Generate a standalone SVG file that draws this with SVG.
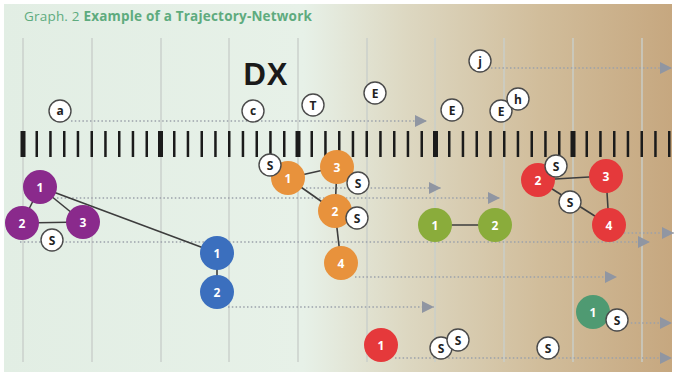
<svg xmlns="http://www.w3.org/2000/svg" width="674" height="375" viewBox="0 0 674 375">
<defs>
<linearGradient id="bg" x1="0" y1="0" x2="674" y2="0" gradientUnits="userSpaceOnUse">
<stop offset="0" stop-color="#e2eee4"/>
<stop offset="0.45" stop-color="#e7f1e8"/>
<stop offset="0.6" stop-color="#ddd8c2"/>
<stop offset="0.8" stop-color="#d1bd9b"/>
<stop offset="1" stop-color="#c6a77f"/>
</linearGradient>
<marker id="ah" markerUnits="userSpaceOnUse" markerWidth="12" markerHeight="12" viewBox="0 0 10 10" refX="10" refY="5" orient="auto">
<path d="M0,0 L10,5 L0,10 Z" fill="#9096a2"/>
</marker>
<style>
.grid{stroke:#c9cfcb;stroke-width:1.4}
.tk{fill:#1b1b1b}
.dot{fill:none;stroke:#9ba1aa;stroke-width:1.6;stroke-dasharray:1.5 2.3;marker-end:url(#ah)}
.edge{stroke:#3d3d3d;stroke-width:1.6;fill:none}
.lab circle{fill:#ffffff;stroke:#4a4a4a;stroke-width:1.4}
.lab text{font-family:"Open Sans","DejaVu Sans",sans-serif;font-weight:700;font-size:12px;fill:#222;text-anchor:middle}
.nd text{font-family:"Open Sans","DejaVu Sans",sans-serif;font-weight:700;font-size:12px;fill:#ffffff;text-anchor:middle}
.pu{fill:#8a2a8c}.bl{fill:#3b6fbe}.or{fill:#e8923c}.gr{fill:#8aac3b}.rd{fill:#e5393b}.tl{fill:#4f9a72}
</style>
</defs>
<rect x="0" y="0" width="674" height="375" fill="#ffffff"/>
<rect x="4" y="4" width="668" height="368" fill="url(#bg)"/>
<text x="24" y="21" font-family="'Open Sans','DejaVu Sans',sans-serif" font-size="13.5" letter-spacing="0.2" fill="#5eab7e">Graph. 2 <tspan font-weight="700">Example of a Trajectory-Network</tspan></text>
<g id="grid">
<line class="grid" x1="23" y1="38" x2="23" y2="362"/>
<line class="grid" x1="92" y1="38" x2="92" y2="362"/>
<line class="grid" x1="161" y1="38" x2="161" y2="362"/>
<line class="grid" x1="229" y1="38" x2="229" y2="362"/>
<line class="grid" x1="298" y1="38" x2="298" y2="362"/>
<line class="grid" x1="367" y1="38" x2="367" y2="362"/>
<line class="grid" x1="435" y1="38" x2="435" y2="362"/>
<line class="grid" x1="504" y1="38" x2="504" y2="362"/>
<line class="grid" x1="573" y1="38" x2="573" y2="362"/>
<line class="grid" x1="642" y1="38" x2="642" y2="362"/>
</g>
<text x="266" y="85" font-family="'Liberation Sans',Arial,sans-serif" font-weight="700" font-size="31" fill="#1a1a1a" text-anchor="middle" letter-spacing="1">DX</text>
<g id="connectors">
<line class="dot" x1="71" y1="121" x2="427" y2="121"/>
<line class="dot" x1="491" y1="68" x2="672" y2="68"/>
<line class="dot" x1="306" y1="188" x2="441" y2="188"/>
<line class="dot" x1="57" y1="198" x2="500" y2="198"/>
<line class="dot" x1="624" y1="233" x2="674" y2="233"/>
<line class="dot" x1="20" y1="242" x2="650" y2="242"/>
<line class="dot" x1="355" y1="277" x2="617" y2="277"/>
<line class="dot" x1="228" y1="307" x2="434" y2="307"/>
<line class="dot" x1="627" y1="323" x2="672" y2="323"/>
<line class="dot" x1="395" y1="358" x2="672" y2="358"/>
<line class="edge" x1="40" y1="187" x2="22" y2="223"/>
<line class="edge" x1="40" y1="187" x2="83" y2="222"/>
<line class="edge" x1="22" y1="223" x2="83" y2="222"/>
<line class="edge" x1="40" y1="187" x2="217" y2="253"/>
<line class="edge" x1="217" y1="253" x2="217" y2="292"/>
<line class="edge" x1="288" y1="178" x2="337" y2="167"/>
<line class="edge" x1="288" y1="178" x2="335" y2="211"/>
<line class="edge" x1="337" y1="167" x2="335" y2="211"/>
<line class="edge" x1="335" y1="211" x2="341" y2="263"/>
<line class="edge" x1="435" y1="225" x2="495" y2="225"/>
<line class="edge" x1="538" y1="180" x2="606" y2="176"/>
<line class="edge" x1="606" y1="176" x2="609" y2="225"/>
<line class="edge" x1="538" y1="180" x2="609" y2="225"/>
</g>
<g id="ticks">
<rect class="tk" x="20.5" y="131" width="5" height="26"/>
<rect class="tk" x="35.5" y="131" width="2.5" height="26"/>
<rect class="tk" x="49.2" y="131" width="2.5" height="26"/>
<rect class="tk" x="63" y="131" width="2.5" height="26"/>
<rect class="tk" x="76.7" y="131" width="2.5" height="26"/>
<rect class="tk" x="90.5" y="131" width="2.5" height="26"/>
<rect class="tk" x="104.2" y="131" width="2.5" height="26"/>
<rect class="tk" x="118" y="131" width="2.5" height="26"/>
<rect class="tk" x="131.7" y="131" width="2.5" height="26"/>
<rect class="tk" x="145.5" y="131" width="2.5" height="26"/>
<rect class="tk" x="158" y="131" width="5" height="26"/>
<rect class="tk" x="173" y="131" width="2.5" height="26"/>
<rect class="tk" x="186.7" y="131" width="2.5" height="26"/>
<rect class="tk" x="200.5" y="131" width="2.5" height="26"/>
<rect class="tk" x="214.2" y="131" width="2.5" height="26"/>
<rect class="tk" x="228" y="131" width="2.5" height="26"/>
<rect class="tk" x="241.7" y="131" width="2.5" height="26"/>
<rect class="tk" x="255.5" y="131" width="2.5" height="26"/>
<rect class="tk" x="269.2" y="131" width="2.5" height="26"/>
<rect class="tk" x="283" y="131" width="2.5" height="26"/>
<rect class="tk" x="295.5" y="131" width="5" height="26"/>
<rect class="tk" x="310.5" y="131" width="2.5" height="26"/>
<rect class="tk" x="324.2" y="131" width="2.5" height="26"/>
<rect class="tk" x="338" y="131" width="2.5" height="26"/>
<rect class="tk" x="351.7" y="131" width="2.5" height="26"/>
<rect class="tk" x="365.5" y="131" width="2.5" height="26"/>
<rect class="tk" x="379.2" y="131" width="2.5" height="26"/>
<rect class="tk" x="393" y="131" width="2.5" height="26"/>
<rect class="tk" x="406.7" y="131" width="2.5" height="26"/>
<rect class="tk" x="420.5" y="131" width="2.5" height="26"/>
<rect class="tk" x="433" y="131" width="5" height="26"/>
<rect class="tk" x="448" y="131" width="2.5" height="26"/>
<rect class="tk" x="461.7" y="131" width="2.5" height="26"/>
<rect class="tk" x="475.5" y="131" width="2.5" height="26"/>
<rect class="tk" x="489.2" y="131" width="2.5" height="26"/>
<rect class="tk" x="503" y="131" width="2.5" height="26"/>
<rect class="tk" x="516.7" y="131" width="2.5" height="26"/>
<rect class="tk" x="530.5" y="131" width="2.5" height="26"/>
<rect class="tk" x="544.2" y="131" width="2.5" height="26"/>
<rect class="tk" x="558" y="131" width="2.5" height="26"/>
<rect class="tk" x="570.5" y="131" width="5" height="26"/>
<rect class="tk" x="585.5" y="131" width="2.5" height="26"/>
<rect class="tk" x="599.2" y="131" width="2.5" height="26"/>
<rect class="tk" x="613" y="131" width="2.5" height="26"/>
<rect class="tk" x="626.7" y="131" width="2.5" height="26"/>
<rect class="tk" x="640.5" y="131" width="2.5" height="26"/>
<rect class="tk" x="654.2" y="131" width="2.5" height="26"/>
<rect class="tk" x="668" y="131" width="2.5" height="26"/>
</g>
<g id="p1" class="nd"><circle class="pu" cx="40" cy="187" r="17"/><text x="40" y="191.5">1</text></g>
<g id="p2" class="nd"><circle class="pu" cx="22" cy="223" r="17"/><text x="22" y="227.5">2</text></g>
<g id="p3" class="nd"><circle class="pu" cx="83" cy="222" r="17"/><text x="83" y="226.5">3</text></g>
<g id="b1" class="nd"><circle class="bl" cx="217" cy="253" r="17"/><text x="217" y="257.5">1</text></g>
<g id="b2" class="nd"><circle class="bl" cx="217" cy="292" r="17"/><text x="217" y="296.5">2</text></g>
<g id="o1" class="nd"><circle class="or" cx="288" cy="178" r="17"/><text x="288" y="182.5">1</text></g>
<g id="o3" class="nd"><circle class="or" cx="337" cy="167" r="17"/><text x="337" y="171.5">3</text></g>
<g id="o2" class="nd"><circle class="or" cx="335" cy="211" r="17"/><text x="335" y="215.5">2</text></g>
<g id="o4" class="nd"><circle class="or" cx="341" cy="263" r="17"/><text x="341" y="267.5">4</text></g>
<g id="g1" class="nd"><circle class="gr" cx="435" cy="225" r="17"/><text x="435" y="229.5">1</text></g>
<g id="g2" class="nd"><circle class="gr" cx="495" cy="225" r="17"/><text x="495" y="229.5">2</text></g>
<g id="r2" class="nd"><circle class="rd" cx="538" cy="180" r="17"/><text x="538" y="184.5">2</text></g>
<g id="r3" class="nd"><circle class="rd" cx="606" cy="176" r="17"/><text x="606" y="180.5">3</text></g>
<g id="r4" class="nd"><circle class="rd" cx="609" cy="225" r="17"/><text x="609" y="229.5">4</text></g>
<g id="r1" class="nd"><circle class="rd" cx="381" cy="345" r="17"/><text x="381" y="349.5">1</text></g>
<g id="t1" class="nd"><circle class="tl" cx="593" cy="312" r="17"/><text x="593" y="316.5">1</text></g>
<g id="la" class="lab"><circle cx="60" cy="111" r="11"/><text x="60" y="115">a</text></g>
<g id="lc" class="lab"><circle cx="253" cy="111" r="11"/><text x="253" y="115">c</text></g>
<g id="lT" class="lab"><circle cx="313" cy="105" r="11"/><text x="313" y="109.5">T</text></g>
<g id="lE1" class="lab"><circle cx="375" cy="93" r="11"/><text x="375" y="97.5">E</text></g>
<g id="lE2" class="lab"><circle cx="452" cy="110" r="11"/><text x="452" y="114.5">E</text></g>
<g id="lE3" class="lab"><circle cx="501" cy="111" r="11"/><text x="501" y="115.5">E</text></g>
<g id="lh" class="lab"><circle cx="518" cy="99" r="11"/><text x="518" y="103.5">h</text></g>
<g id="lj" class="lab"><circle cx="480" cy="61" r="11"/><text x="480" y="65.5">j</text></g>
<g id="s1" class="lab"><circle cx="52" cy="240" r="11"/><text x="52" y="244.5">S</text></g>
<g id="s2" class="lab"><circle cx="270" cy="165" r="11"/><text x="270" y="169.5">S</text></g>
<g id="s3" class="lab"><circle cx="358" cy="183" r="11"/><text x="358" y="187.5">S</text></g>
<g id="s4" class="lab"><circle cx="357" cy="218" r="11"/><text x="357" y="222.5">S</text></g>
<g id="s5" class="lab"><circle cx="556" cy="166" r="11"/><text x="556" y="170.5">S</text></g>
<g id="s6" class="lab"><circle cx="570" cy="202" r="11"/><text x="570" y="206.5">S</text></g>
<g id="s7" class="lab"><circle cx="617" cy="320" r="11"/><text x="617" y="324.5">S</text></g>
<g id="s8" class="lab"><circle cx="441" cy="348" r="11"/><text x="441" y="352.5">S</text></g>
<g id="s9" class="lab"><circle cx="458" cy="340" r="11"/><text x="458" y="344.5">S</text></g>
<g id="s10" class="lab"><circle cx="548" cy="348" r="11"/><text x="548" y="352.5">S</text></g>
</svg>
